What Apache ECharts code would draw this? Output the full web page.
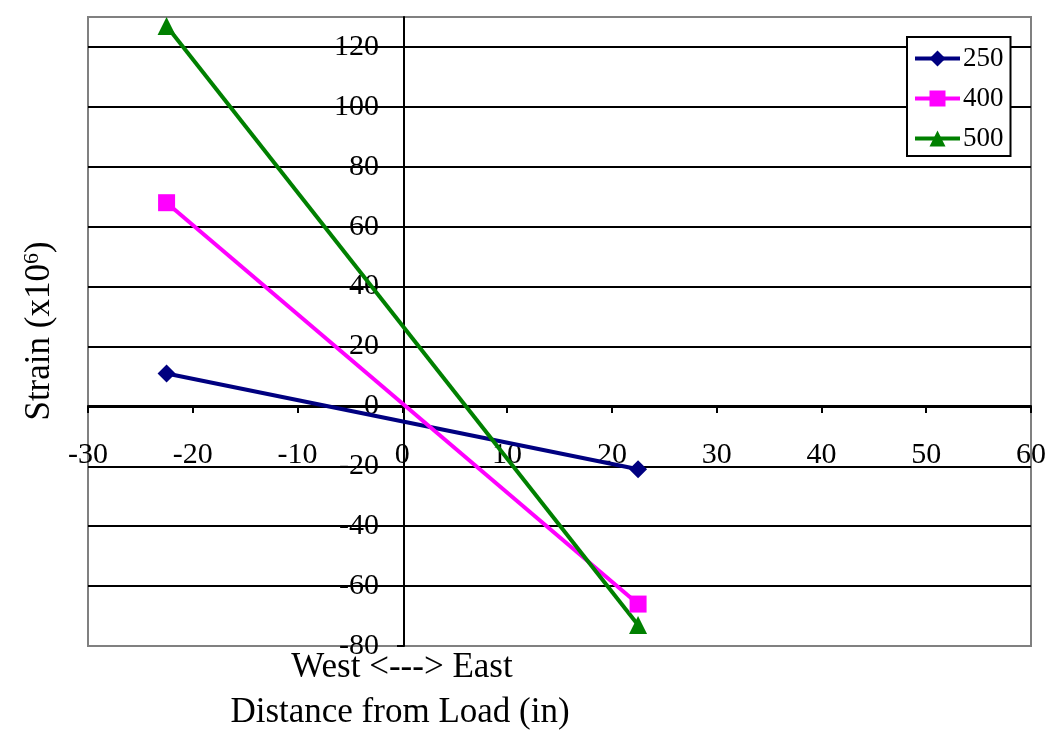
<!DOCTYPE html>
<html>
<head>
<meta charset="utf-8">
<script src="https://cdn.jsdelivr.net/npm/echarts@6/dist/echarts.min.js"></script>
<style>
  html, body { margin: 0; padding: 0; background: #fff; }
  #chart { width: 1053px; height: 740px; }
</style>
</head>
<body>
<div id="chart"></div>
<script>
// distance from load (in)
const distances = [-22.5, 22.5];
// strain (x10^6)
const s250 = [11, -21];
const s400 = [68, -66];
const s500 = [127, -73];

const serif = "'Liberation Serif', 'Times New Roman', serif";

const toPairs = vals => distances.map((d, i) => [d, vals[i]]);

const myChart = echarts.init(document.getElementById('chart'));

// axes cross at the origin: shift them in from the grid edges
// x: 0 sits 240px above the bottom edge, y: 0 sits 316px right of the left edge
const option = {
  animation: false,
  grid: {
    left: 88,
    right: 22,
    top: 17,
    bottom: 94,
    show: true,
    borderColor: '#808080',
    borderWidth: 2,
    backgroundColor: '#fff',
  },
  legend: {
    orient: 'vertical',
    left: 907,
    top: 37,
    padding: [8, 7, 4, 6],
    itemGap: 13,
    itemWidth: 45,
    itemHeight: 20,
    borderColor: '#000',
    borderWidth: 2,
    backgroundColor: '#fff',
    lineStyle: { width: 4 },
    textStyle: { fontFamily: serif, fontSize: 27, color: '#000', padding: [0, 0, 0, -2] },
    data: ['250', '400', '500'],
  },
  xAxis: {
    type: 'value',
    min: -30,
    max: 60,
    interval: 10,
    offset: -240,
    axisLine: { onZero: false, lineStyle: { color: '#000', width: 2 } },
    axisTick: { show: true, length: 7, lineStyle: { color: '#000', width: 2 } },
    axisLabel: { margin: 34, fontFamily: serif, fontSize: 30, color: '#000' },
    splitLine: { show: false },
  },
  yAxis: {
    type: 'value',
    min: -80,
    max: 130,
    interval: 20,
    offset: -316,
    axisLine: { onZero: false, lineStyle: { color: '#000', width: 2 } },
    axisTick: { show: true, length: 7, lineStyle: { color: '#000', width: 2 } },
    axisLabel: { margin: 25, fontFamily: serif, fontSize: 30, color: '#000', showMaxLabel: false },
    splitLine: { show: true, showMinLine: false, showMaxLine: false, lineStyle: { color: '#000', width: 2 } },
  },
  graphic: [
    {
      type: 'text',
      x: 40,
      y: 331,
      rotation: Math.PI / 2,
      style: {
        text: 'Strain (x10{sup|6})',
        fontFamily: serif,
        fontSize: 35,
        fill: '#000',
        align: 'center',
        verticalAlign: 'middle',
        rich: {
          sup: { fontFamily: serif, fontSize: 22, verticalAlign: 'top', padding: [0, 0, 16, 0] },
        },
      },
    },
    {
      type: 'text',
      x: 402,
      y: 668,
      style: {
        text: 'West <---> East',
        fontFamily: serif,
        fontSize: 35,
        fill: '#000',
        align: 'center',
        verticalAlign: 'middle',
      },
    },
    {
      type: 'text',
      x: 400,
      y: 713,
      style: {
        text: 'Distance from Load (in)',
        fontFamily: serif,
        fontSize: 35,
        fill: '#000',
        align: 'center',
        verticalAlign: 'middle',
      },
    },
  ],
  series: [
    {
      name: '250',
      type: 'line',
      data: toPairs(s250),
      symbol: 'diamond',
      symbolSize: 18,
      color: '#000080',
      lineStyle: { width: 4 },
    },
    {
      name: '400',
      type: 'line',
      data: toPairs(s400),
      symbol: 'rect',
      symbolSize: 17,
      color: '#FF00FF',
      lineStyle: { width: 4 },
    },
    {
      name: '500',
      type: 'line',
      data: toPairs(s500),
      symbol: 'triangle',
      symbolSize: 18,
      color: '#008000',
      lineStyle: { width: 4 },
    },
  ],
};

myChart.setOption(option);
</script>
</body>
</html>
